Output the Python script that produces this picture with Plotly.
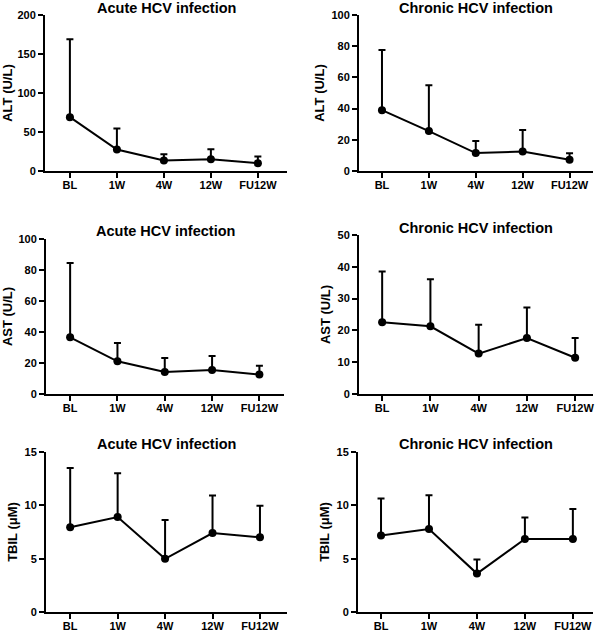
import plotly.graph_objects as go

# ---------------- data ----------------
categories = ["BL", "1W", "4W", "12W", "FU12W"]

alt_acute_mean = [69, 27.5, 13.5, 15, 10]
alt_acute_sd = [100, 27, 8, 13, 8.5]
alt_chronic_mean = [39, 25.6, 11.5, 12.5, 7.2]
alt_chronic_sd = [38.6, 29.3, 7.7, 13.8, 4.1]

ast_acute_mean = [36.6, 21.1, 14.2, 15.5, 12.5]
ast_acute_sd = [47.9, 11.8, 9.0, 9.0, 5.8]
ast_chronic_mean = [22.6, 21.3, 12.7, 17.6, 11.4]
ast_chronic_sd = [15.9, 14.8, 9.1, 9.6, 6.2]

tbil_acute_mean = [7.94, 8.91, 4.99, 7.4, 7.0]
tbil_acute_sd = [5.56, 4.09, 3.64, 3.52, 2.95]
tbil_chronic_mean = [7.18, 7.78, 3.6, 6.84, 6.84]
tbil_chronic_sd = [3.46, 3.17, 1.33, 2.01, 2.82]

panel_titles = ["Acute HCV infection", "Chronic HCV infection"] * 3
y_titles = ["ALT (U/L)", "ALT (U/L)", "AST (U/L)", "AST (U/L)", "TBIL (μM)", "TBIL (μM)"]
y_max = [200, 100, 100, 50, 15, 15]
y_dtick = [50, 20, 20, 10, 5, 5]

means = [alt_acute_mean, alt_chronic_mean, ast_acute_mean, ast_chronic_mean,
         tbil_acute_mean, tbil_chronic_mean]
sds = [alt_acute_sd, alt_chronic_sd, ast_acute_sd, ast_chronic_sd,
       tbil_acute_sd, tbil_chronic_sd]

# ---------------- layout geometry (pixels) ----------------
W, H = 600, 632
# (x0, x1, ytop, ybottom, xmin, xmax, title_y)
geom = [
    (45, 287, 15, 171, -0.53, 4.62, 8),
    (359, 593, 15, 171, -0.49, 4.50, 8),
    (46, 284, 239, 394, -0.51, 4.52, 231),
    (359, 593, 235, 394, -0.48, 4.37, 228),
    (46, 287, 452, 612, -0.51, 4.57, 444),
    (358, 593, 452, 612, -0.48, 4.42, 444),
]

FONT = "Liberation Sans, Arial, sans-serif"

fig = go.Figure()
layout = dict(
    width=W, height=H,
    margin=dict(l=0, r=0, t=0, b=0, pad=0, autoexpand=False),
    paper_bgcolor="white", plot_bgcolor="white",
    showlegend=False,
    font=dict(family=FONT, color="black"),
    annotations=[],
)

xpos = list(range(len(categories)))
for i in range(6):
    x0, x1, yt, yb, xmin, xmax, ty = geom[i]
    xa = "xaxis" if i == 0 else f"xaxis{i+1}"
    ya = "yaxis" if i == 0 else f"yaxis{i+1}"
    xr = "x" if i == 0 else f"x{i+1}"
    yr = "y" if i == 0 else f"y{i+1}"
    fig.add_trace(go.Scatter(
        x=xpos, y=means[i], xaxis=xr, yaxis=yr,
        mode="lines+markers",
        line=dict(color="black", width=2),
        marker=dict(color="black", size=8),
        error_y=dict(type="data", array=sds[i], arrayminus=[0] * 5,
                     symmetric=False, color="black", thickness=2, width=3.5),
        cliponaxis=False,
        hoverinfo="skip",
    ))
    layout[xa] = dict(
        domain=[x0 / W, x1 / W], anchor=yr, range=[xmin, xmax],
        tickvals=xpos, ticktext=categories, automargin=False,
        showline=True, linecolor="black", linewidth=2,
        ticks="outside", ticklen=5, tickwidth=2, tickcolor="black",
        ticklabelstandoff=-2,
        showgrid=False, zeroline=False, fixedrange=True,
        tickfont=dict(family=FONT, size=11, color="black", weight="bold"),
    )
    layout[ya] = dict(
        domain=[1 - yb / H, 1 - yt / H], anchor=xr, range=[0, y_max[i]],
        dtick=y_dtick[i], tick0=0, automargin=False,
        showline=True, linecolor="black", linewidth=2,
        ticks="outside", ticklen=5, tickwidth=2, tickcolor="black",
        showgrid=False, zeroline=False, fixedrange=True,
        tickfont=dict(family=FONT, size=11, color="black", weight="bold"),
        title=dict(text=y_titles[i], standoff=4,
                   font=dict(family=FONT, size=13, color="black", weight="bold")),
    )
    layout["annotations"].append(dict(
        text=panel_titles[i], xref="paper", yref="paper",
        x=(x0 + x1) / 2 / W, y=1 - ty / H, xanchor="center", yanchor="middle",
        showarrow=False,
        font=dict(family=FONT, size=14.5, color="black", weight="bold"),
    ))

fig.update_layout(**layout)
fig.write_html(
    "out.html",
    config={"displayModeBar": False},
    post_script="document.body.style.margin='0';document.body.style.overflow='hidden';",
)
